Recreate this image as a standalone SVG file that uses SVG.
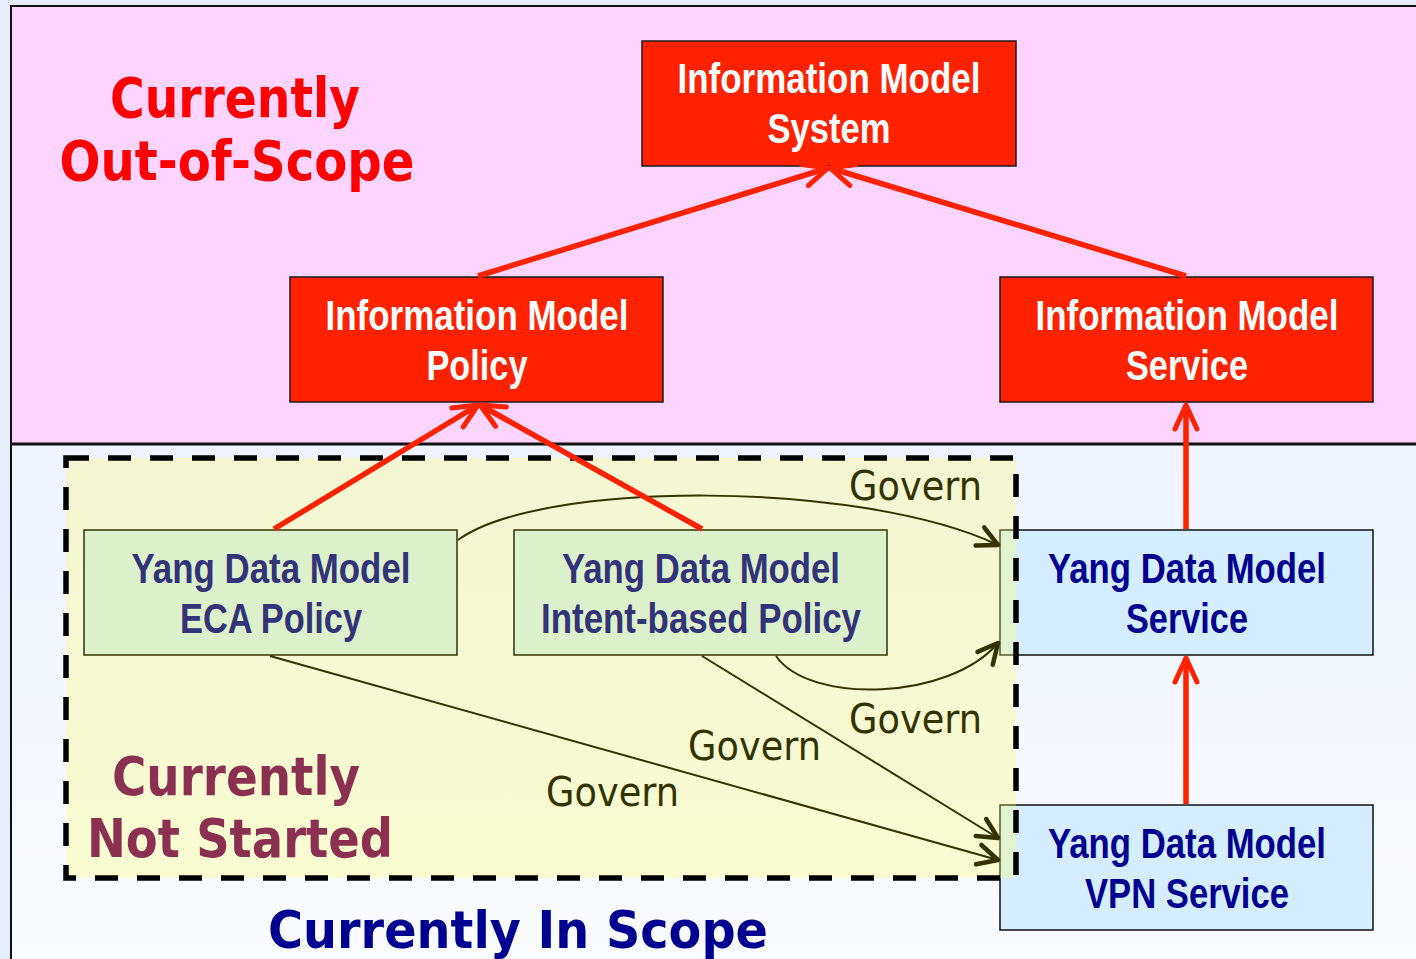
<svg xmlns="http://www.w3.org/2000/svg" width="1416" height="959" viewBox="0 0 1416 959">
  <style>
    .im rect { fill: #ff2200; stroke: #1a1a1a; stroke-width: 1.5; }
    .im text { font-family: "Liberation Sans Narrow", "Liberation Sans", Arial, sans-serif; font-weight: bold; font-size: 42px; fill: #ffffff; text-anchor: middle; }
    .ydm text { font-family: "Liberation Sans Narrow", "Liberation Sans", Arial, sans-serif; font-weight: bold; font-size: 42px; text-anchor: middle; }
    .pol rect { fill: #ddf0cc; stroke: #333300; stroke-width: 1.5; }
    .pol text { fill: #333377; }
    .svc rect { fill: #d4eeff; stroke: #111111; stroke-width: 1.5; }
    .svc text { fill: #000090; }
    .title { font-family: "DejaVu Sans", Verdana, sans-serif; font-weight: bold; }
    .red-link { stroke: #ff2200; stroke-width: 5.5; fill: none; marker-end: url(#redHead); }
    .gov-link { stroke: #333300; stroke-width: 2; fill: none; marker-end: url(#govHead); }
    .gov-label { font-family: "DejaVu Sans", Verdana, sans-serif; font-size: 40px; fill: #333300; }
  </style>
  <defs>
    <marker id="redHead" markerUnits="userSpaceOnUse" markerWidth="40" markerHeight="40" refX="0" refY="0" orient="auto" overflow="visible">
      <path d="M-24,-11 L0,0 L-24,11" fill="none" stroke="#ff2200" stroke-width="5" stroke-linecap="round" stroke-linejoin="round"/>
    </marker>
    <marker id="govHead" markerUnits="userSpaceOnUse" markerWidth="40" markerHeight="40" refX="0" refY="0" orient="auto" overflow="visible">
      <path d="M-20,-10 L0,0 L-20,10" fill="none" stroke="#333300" stroke-width="4.5" stroke-linecap="round" stroke-linejoin="round"/>
    </marker>
    <linearGradient id="lowerBg" x1="0" y1="0" x2="0" y2="1">
      <stop offset="0" stop-color="#eef3ff"/>
      <stop offset="1" stop-color="#f9fbff"/>
    </linearGradient>
  </defs>

  <!-- page backdrop -->
  <rect x="0" y="0" width="1416" height="959" fill="#e6ecfa"/>

  <!-- out-of-scope band -->
  <rect id="zone-out-of-scope" x="11" y="6" width="1420" height="438" fill="#ffd5ff" stroke="#111111" stroke-width="2"/>
  <!-- in-scope band -->
  <rect id="zone-in-scope" x="11" y="444" width="1420" height="530" fill="url(#lowerBg)" stroke="#111111" stroke-width="2"/>
  <line x1="11" y1="444" x2="1416" y2="444" stroke="#111111" stroke-width="3"/>

  <!-- zone titles -->
  <text class="title" x="235" y="117" font-size="55" fill="#ff0000" text-anchor="middle" textLength="250" lengthAdjust="spacingAndGlyphs">Currently</text>
  <text class="title" x="237" y="180" font-size="55" fill="#ff0000" text-anchor="middle" textLength="355" lengthAdjust="spacingAndGlyphs">Out-of-Scope</text>

  <!-- service nodes (under the tinted not-started area) -->
  <g id="node-yang-service" class="ydm svc">
    <rect x="1000" y="530" width="373" height="125"/>
    <text x="1187" y="583" textLength="278" lengthAdjust="spacingAndGlyphs">Yang Data Model</text>
    <text x="1187" y="633" textLength="122" lengthAdjust="spacingAndGlyphs">Service</text>
  </g>
  <g id="node-yang-vpn-service" class="ydm svc">
    <rect x="1000" y="805" width="373" height="125"/>
    <text x="1187" y="858" textLength="278" lengthAdjust="spacingAndGlyphs">Yang Data Model</text>
    <text x="1187" y="908" textLength="204" lengthAdjust="spacingAndGlyphs">VPN Service</text>
  </g>

  <!-- not-started area -->
  <g id="zone-not-started">
    <rect x="66" y="458" width="950" height="420" fill="#ffff66" fill-opacity="0.3"/>
    <text class="title" x="236" y="795" font-size="54" fill="#8b3050" text-anchor="middle" textLength="248" lengthAdjust="spacingAndGlyphs">Currently</text>
    <text class="title" x="240" y="857" font-size="54" fill="#8b3050" text-anchor="middle" textLength="306" lengthAdjust="spacingAndGlyphs">Not Started</text>
  </g>

  <!-- information model nodes -->
  <g id="node-im-system" class="im">
    <rect x="642" y="41" width="374" height="125"/>
    <text x="829" y="93" textLength="303" lengthAdjust="spacingAndGlyphs">Information Model</text>
    <text x="829" y="143" textLength="123" lengthAdjust="spacingAndGlyphs">System</text>
  </g>
  <g id="node-im-policy" class="im">
    <rect x="290" y="277" width="373" height="125"/>
    <text x="477" y="330" textLength="303" lengthAdjust="spacingAndGlyphs">Information Model</text>
    <text x="477" y="380" textLength="101" lengthAdjust="spacingAndGlyphs">Policy</text>
  </g>
  <g id="node-im-service" class="im">
    <rect x="1000" y="277" width="373" height="125"/>
    <text x="1187" y="330" textLength="303" lengthAdjust="spacingAndGlyphs">Information Model</text>
    <text x="1187" y="380" textLength="122" lengthAdjust="spacingAndGlyphs">Service</text>
  </g>

  <!-- policy data model nodes -->
  <g id="node-yang-eca-policy" class="ydm pol">
    <rect x="84" y="530" width="373" height="125"/>
    <text x="271" y="583" textLength="279" lengthAdjust="spacingAndGlyphs">Yang Data Model</text>
    <text x="271" y="633" textLength="182" lengthAdjust="spacingAndGlyphs">ECA Policy</text>
  </g>
  <g id="node-yang-intent-policy" class="ydm pol">
    <rect x="514" y="530" width="373" height="125"/>
    <text x="701" y="583" textLength="278" lengthAdjust="spacingAndGlyphs">Yang Data Model</text>
    <text x="701" y="633" textLength="320" lengthAdjust="spacingAndGlyphs">Intent-based Policy</text>
  </g>

  <!-- dashed border of the not-started area -->
  <rect x="66" y="458" width="950" height="420" fill="none" stroke="#000000" stroke-width="5.5" stroke-dasharray="23 19"/>

  <!-- connectors: governance links first, derivation links on top -->
  <g id="connectors">
    <path class="gov-link" d="M458,540 C540,480 860,480 998,545"/>
    <path class="gov-link" d="M776,656 C810,705 950,700 998,643"/>
    <line class="gov-link" x1="270" y1="656" x2="998" y2="860"/>
    <line class="gov-link" x1="702" y1="656" x2="998" y2="838"/>

    <text class="gov-label" x="849" y="500" textLength="133" lengthAdjust="spacingAndGlyphs">Govern</text>
    <text class="gov-label" x="849" y="733" textLength="133" lengthAdjust="spacingAndGlyphs">Govern</text>
    <text class="gov-label" x="688" y="760" textLength="133" lengthAdjust="spacingAndGlyphs">Govern</text>
    <text class="gov-label" x="546" y="806" textLength="133" lengthAdjust="spacingAndGlyphs">Govern</text>

    <line class="red-link" x1="478" y1="276" x2="828" y2="168"/>
    <line class="red-link" x1="1186" y1="276" x2="830" y2="168"/>
    <line class="red-link" x1="274" y1="529" x2="478" y2="405"/>
    <line class="red-link" x1="702" y1="529" x2="480" y2="405"/>
    <line class="red-link" x1="1186" y1="529" x2="1186" y2="405"/>
    <line class="red-link" x1="1186" y1="804" x2="1186" y2="658"/>
  </g>

  <!-- in-scope title -->
  <text class="title" x="518" y="948" font-size="52" fill="#000090" text-anchor="middle" textLength="500" lengthAdjust="spacingAndGlyphs">Currently In Scope</text>
</svg>
